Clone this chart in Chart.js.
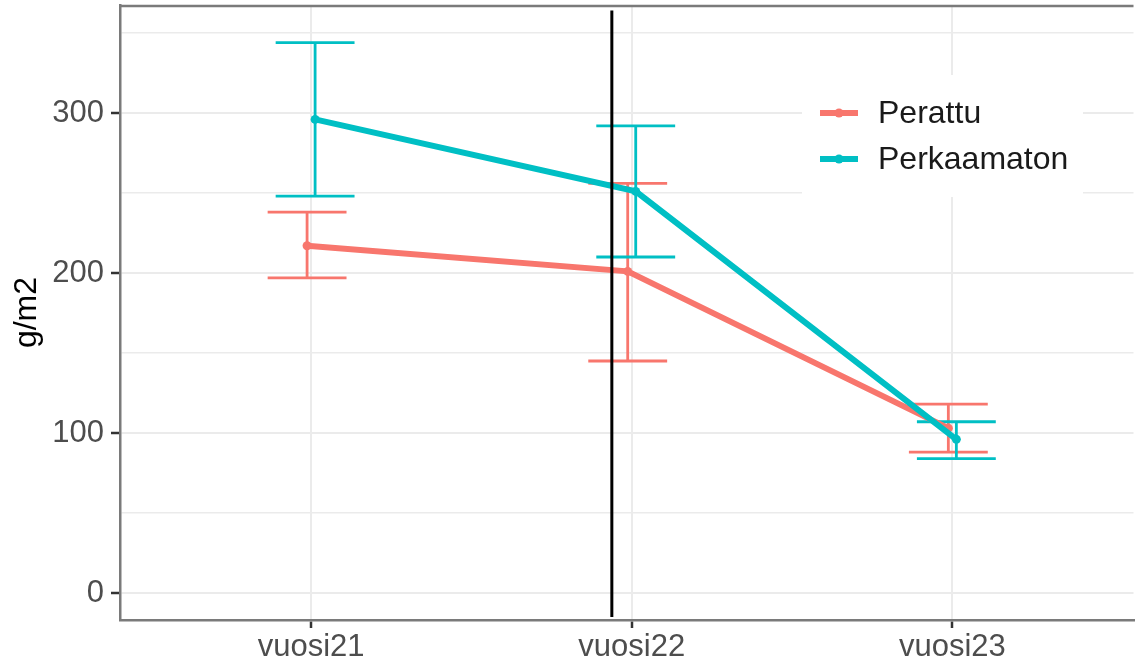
<!DOCTYPE html>
<html>
<head>
<meta charset="utf-8">
<script src="https://cdn.jsdelivr.net/npm/chart.js"></script>
<style>
  html, body { margin: 0; padding: 0; background: #fff; }
  canvas { display: block; }
</style>
</head>
<body>
<canvas id="chart" width="1138" height="662"></canvas>
<script>
// data
const years = ['vuosi21', 'vuosi22', 'vuosi23'];
const seriesNames = ['Perattu', 'Perkaamaton'];
const perattu = [217, 201, 103];
const perattuLow = [197, 145, 88];
const perattuHigh = [238, 256, 118];
const perkaamaton = [296, 251, 96];
const perkaamatonLow = [248, 210, 84];
const perkaamatonHigh = [344, 292, 107];
const yTicks = [0, 50, 100, 150, 200, 250, 300, 350];
const markerX = 1.938; // black vertical line between vuosi21 and vuosi22

const RED = '#F8766D';
const TEAL = '#00BFC4';
const DODGE = 0.0125;
const CAP = 0.123;
const FONT = "'Liberation Sans', Arial, sans-serif";

function points(values, shift) {
    return values.map((v, i) => ({ x: i + 1 + shift, y: v }));
}

// error bars, drawn under the lines
const errorBars = {
    id: 'errorBars',
    beforeDatasetsDraw(chart) {
        const { ctx, scales: { x, y } } = chart;
        chart.data.datasets.forEach(ds => {
            ctx.save();
            ctx.strokeStyle = ds.borderColor;
            ctx.lineWidth = 2.8;
            ds.data.forEach((p, i) => {
                const px = x.getPixelForValue(p.x);
                const x0 = x.getPixelForValue(p.x - CAP);
                const x1 = x.getPixelForValue(p.x + CAP);
                const yl = y.getPixelForValue(ds.low[i]);
                const yh = y.getPixelForValue(ds.high[i]);
                ctx.beginPath();
                ctx.moveTo(px, yl); ctx.lineTo(px, yh);
                ctx.moveTo(x0, yl); ctx.lineTo(x1, yl);
                ctx.moveTo(x0, yh); ctx.lineTo(x1, yh);
                ctx.stroke();
            });
            ctx.restore();
        });
    }
};

// top border, vertical marker and the legend inside the panel
const extras = {
    id: 'extras',
    afterDatasetsDraw(chart) {
        const { ctx, chartArea: a, scales: { x, y } } = chart;
        ctx.save();
        ctx.strokeStyle = '#7a7a7a';
        ctx.lineWidth = 2.5;
        ctx.beginPath();
        ctx.moveTo(a.left, a.top + 1);
        ctx.lineTo(a.right, a.top + 1);
        ctx.stroke();

        const mx = x.getPixelForValue(markerX);
        ctx.strokeStyle = '#000';
        ctx.lineWidth = 3;
        ctx.beginPath();
        ctx.moveTo(mx, y.getPixelForValue(364));
        ctx.lineTo(mx, y.getPixelForValue(-15));
        ctx.stroke();

        // legend
        ctx.fillStyle = '#fff';
        ctx.fillRect(802, 75, 281, 122);
        const colors = [RED, TEAL];
        seriesNames.forEach((name, i) => {
            const ry = 113 + i * 46;
            ctx.strokeStyle = colors[i];
            ctx.lineWidth = 6;
            ctx.beginPath();
            ctx.moveTo(820, ry);
            ctx.lineTo(858, ry);
            ctx.stroke();
            ctx.fillStyle = colors[i];
            ctx.beginPath();
            ctx.arc(839, ry, 4.5, 0, Math.PI * 2);
            ctx.fill();
            ctx.fillStyle = '#1a1a1a';
            ctx.font = '32px ' + FONT;
            ctx.textBaseline = 'middle';
            ctx.fillText(name, 878, ry + 1);
        });
        ctx.restore();
    }
};

new Chart(document.getElementById('chart'), {
    type: 'line',
    data: {
        datasets: [
            {
                label: seriesNames[0],
                data: points(perattu, -DODGE),
                low: perattuLow,
                high: perattuHigh,
                borderColor: RED,
                backgroundColor: RED,
                borderWidth: 6,
                pointRadius: 4.5,
                pointBorderWidth: 0,
                order: 2
            },
            {
                label: seriesNames[1],
                data: points(perkaamaton, DODGE),
                low: perkaamatonLow,
                high: perkaamatonHigh,
                borderColor: TEAL,
                backgroundColor: TEAL,
                borderWidth: 6,
                pointRadius: 4.5,
                pointBorderWidth: 0,
                order: 1
            }
        ]
    },
    options: {
        responsive: false,
        animation: false,
        layout: { padding: { top: 5, left: 0, right: 0, bottom: 0 } },
        scales: {
            x: {
                type: 'linear',
                min: 0.404,
                max: 3.565,
                afterBuildTicks: s => { s.ticks = years.map((_, i) => ({ value: i + 1 })); },
                afterFit: s => { s.height = 42; s.paddingLeft = 0; s.paddingRight = 0; },
                ticks: {
                    callback: v => years[v - 1],
                    color: '#4D4D4D',
                    font: { family: FONT, size: 31 },
                    padding: 1,
                    autoSkip: false,
                    maxRotation: 0
                },
                grid: {
                    color: '#EBEBEB',
                    lineWidth: 2,
                    tickColor: '#333',
                    tickLength: 8,
                    tickWidth: 2.5
                },
                border: { display: true, color: '#7a7a7a', width: 2.5 }
            },
            y: {
                min: -16.9,
                max: 367.5,
                afterBuildTicks: s => { s.ticks = yTicks.map(v => ({ value: v })); },
                afterFit: s => { s.width = 120; s.paddingTop = 0; s.paddingBottom = 0; },
                ticks: {
                    callback: v => (v % 100 === 0 ? v : ''),
                    color: '#4D4D4D',
                    font: { family: FONT, size: 31 },
                    padding: 7,
                    autoSkip: false
                },
                grid: {
                    color: '#EBEBEB',
                    lineWidth: c => (c.tick && c.tick.value % 100 === 0 ? 2 : 1.5),
                    tickColor: c => (c.tick && c.tick.value % 100 === 0 ? '#333' : 'rgba(0,0,0,0)'),
                    tickLength: 9,
                    tickWidth: 2.5
                },
                border: { display: true, color: '#7a7a7a', width: 2.5 },
                title: {
                    display: true,
                    text: 'g/m2',
                    color: '#000',
                    font: { family: FONT, size: 32 },
                    padding: { top: 8, bottom: 0 }
                }
            }
        },
        plugins: {
            legend: { display: false },
            tooltip: { enabled: false }
        }
    },
    plugins: [errorBars, extras]
});
</script>
</body>
</html>
